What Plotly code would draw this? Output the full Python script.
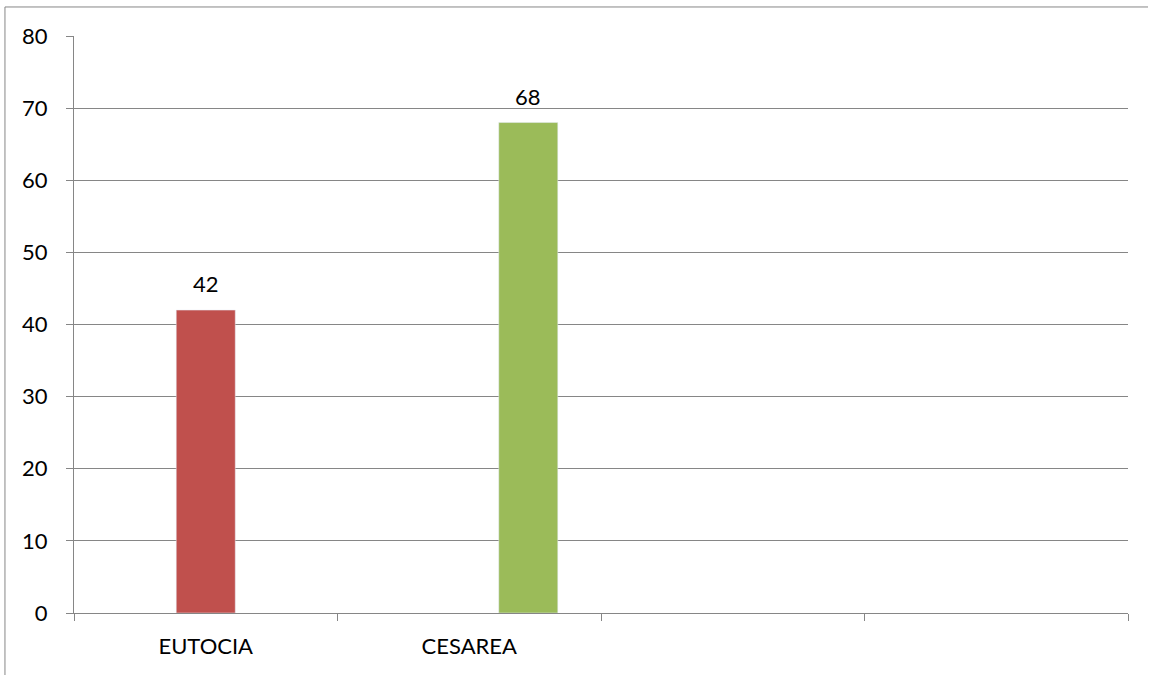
import plotly.graph_objects as go

positions = [1, 2, 3, 4]
category_labels = ["EUTOCIA", "CESAREA", "", ""]
series_blue = [None, None, None, None]
series_eutocia = [42, None, None, None]
series_cesarea = [None, 68, None, None]
y_ticks = [0, 10, 20, 30, 40, 50, 60, 70, 80]

FONT = "Lato, Carlito, Calibri, sans-serif"
GRID = "#868686"
FS = 22

fig = go.Figure()
fig.add_trace(go.Bar(x=positions, y=series_blue, marker_color="#4F81BD", showlegend=False))
fig.add_trace(go.Bar(x=positions, y=series_eutocia, marker_color="#C0504D", showlegend=False))
fig.add_trace(go.Bar(x=positions, y=series_cesarea, marker_color="#9BBB59", showlegend=False))

# data labels above each bar
annotations = []
bar_offset = 1 / 3 * (1 - 0.328)  # width of one bar in category units
for series, shift in ((series_eutocia, 0.0), (series_cesarea, bar_offset)):
    for xp, v in zip(positions, series):
        if v is not None:
            annotations.append(dict(x=xp + shift, y=v, text=str(v), showarrow=False,
                                    yanchor="bottom", yshift=11,
                                    font=dict(family=FONT, size=FS, color="black")))

fig.update_layout(
    width=1152, height=675,
    margin=dict(l=74, r=24, t=36, b=62),
    paper_bgcolor="white", plot_bgcolor="white",
    barmode="group", bargap=0.328, bargroupgap=0,
    font=dict(family=FONT, size=FS, color="black"),
    annotations=annotations,
    xaxis=dict(
        range=[0.5, 4.5], tickmode="array", tickvals=positions, ticktext=category_labels,
        ticks="", showgrid=False, showline=True, linecolor=GRID, linewidth=1,
        zeroline=False, ticklabelstandoff=14, tickfont=dict(size=FS),
        minor=dict(tickmode="array", tickvals=[0.5, 1.5, 2.5, 3.5, 4.5],
                   ticks="outside", ticklen=7, tickcolor=GRID, tickwidth=1, showgrid=False),
    ),
    yaxis=dict(
        range=[0, 80], tickmode="array", tickvals=y_ticks,
        showgrid=True, gridcolor=GRID, gridwidth=1,
        showline=True, linecolor=GRID, linewidth=1, zeroline=False,
        ticks="outside", ticklen=7, tickcolor=GRID, ticklabelstandoff=14,
        tickfont=dict(size=FS),
    ),
    shapes=[
        dict(type="line", xref="paper", yref="paper", x0=-0.0655, x1=1.019, y0=1.0503, y1=1.0503,
             line=dict(color=GRID, width=1)),
        dict(type="line", xref="paper", yref="paper", x0=-0.0655, x1=-0.0655, y0=1.0503, y1=-0.11,
             line=dict(color=GRID, width=1)),
    ],
)

fig.write_html("out.html")
